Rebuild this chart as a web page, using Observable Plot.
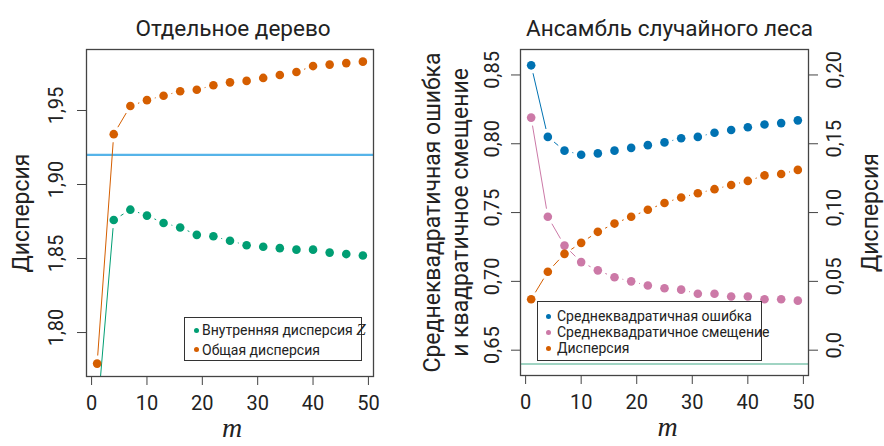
<!DOCTYPE html>
<html>
<head>
<meta charset="utf-8">
<script src="https://cdn.jsdelivr.net/npm/d3@7"></script>
<script src="https://cdn.jsdelivr.net/npm/@observablehq/plot@0.6"></script>
<style>
  html, body { margin: 0; padding: 0; background: #fff; }
  #wrap { position: relative; width: 884px; height: 446px; overflow: hidden; font-family: Roboto, "Liberation Sans", sans-serif; color: #222; }
  #p1 { position: absolute; left: 0; top: 0; }
  #p2 { position: absolute; left: 410px; top: 0; }
  .legend { position: absolute; background: #fff; border: 1px solid #333; box-sizing: border-box; }
  .row { position: absolute; left: 0; white-space: nowrap; font-size: 14px; line-height: 16px; color: #222; }
  .dot { position: absolute; width: 5px; height: 5px; border-radius: 50%; }
  .z { font-family: "Liberation Serif", serif; font-style: italic; font-size: 17px; }
</style>
</head>
<body>
<div id="wrap">
  <div id="p1"></div>
  <div id="p2"></div>
  <div class="legend" id="leg1" style="left:184px; top:317px; width:178px; height:44px;"></div>
  <div class="legend" id="leg2" style="left:537px; top:301px; width:225px; height:60px;"></div>
</div>
<script>
// ---- data ----
const m = [1, 4, 7, 10, 13, 16, 19, 22, 25, 28, 31, 34, 37, 40, 43, 46, 49];

// Left panel: single tree
const treeWithinZ = [1.743, 1.876, 1.883, 1.879, 1.874, 1.871, 1.866, 1.865, 1.862, 1.859, 1.858, 1.857, 1.856, 1.856, 1.854, 1.853, 1.852];
const treeTotal   = [1.779, 1.934, 1.953, 1.957, 1.960, 1.963, 1.964, 1.967, 1.969, 1.970, 1.972, 1.974, 1.976, 1.980, 1.981, 1.982, 1.983];
const treeRef = 1.920;

// Right panel: random forest ensemble
const rfMSE  = [0.857, 0.805, 0.795, 0.792, 0.793, 0.795, 0.797, 0.799, 0.801, 0.804, 0.805, 0.808, 0.810, 0.812, 0.814, 0.815, 0.817];
const rfBias = [0.819, 0.747, 0.726, 0.714, 0.708, 0.703, 0.700, 0.697, 0.695, 0.694, 0.691, 0.691, 0.689, 0.689, 0.687, 0.687, 0.686];
const rfVar  = [0.037, 0.057, 0.070, 0.078, 0.086, 0.092, 0.097, 0.102, 0.107, 0.111, 0.114, 0.117, 0.120, 0.123, 0.127, 0.128, 0.131];
const rfRef = 0.640;
const varOffset = 0.65; // right axis 0.0 aligns with left axis 0.65

// ticks and labels
const xTicks = [0, 10, 20, 30, 40, 50];
const treeYTicks = [1.80, 1.85, 1.90, 1.95];
const treeYLabels = ["1,80", "1,85", "1,90", "1,95"];
const rfYTicks = [0.65, 0.70, 0.75, 0.80, 0.85];
const rfYLabels = ["0,65", "0,70", "0,75", "0,80", "0,85"];
const rfVarTicks = [0.0, 0.05, 0.10, 0.15, 0.20];
const rfVarLabels = ["0,0", "0,05", "0,10", "0,15", "0,20"];

// text
const titles = ["Отдельное дерево", "Ансамбль случайного леса"];
const treeYTitle = "Дисперсия";
const rfYTitle = ["Среднеквадратичная ошибка", "и квадратичное смещение"];
const rfY2Title = "Дисперсия";
const xTitle = "m";
const legend1 = [["Внутренняя дисперсия ", "#009E73", true], ["Общая дисперсия", "#D55E00", false]];
const legend2 = [["Среднеквадратичная ошибка", "#0072B2"], ["Среднеквадратичное смещение", "#CC79A7"], ["Дисперсия", "#D55E00"]];

const C = { green: "#009E73", orange: "#D55E00", sky: "#56B4E9", blue: "#0072B2", pink: "#CC79A7", teal: "#43a987" };

// ---- helpers ----
const pts = (ys, off = 0) => m.map((x, i) => ({x, y: ys[i] + off}));
const segs = (ys, off = 0) => m.slice(1).map((x, i) => ({x1: m[i], y1: ys[i] + off, x2: x, y2: ys[i + 1] + off}));
const FONT = "Roboto, 'Liberation Sans', sans-serif";
const vtext = {rotate: -90, textAnchor: "middle", lineAnchor: "middle", fill: "#222"};

function series(ys, color, off = 0) {
  return [
    Plot.arrow(segs(ys, off), {x1: "x1", y1: "y1", x2: "x2", y2: "y2", stroke: color, strokeWidth: 1, headLength: 0, inset: 8.5, clip: true}),
    Plot.dot(pts(ys, off), {x: "x", y: "y", r: 4.3, fill: color, stroke: "none", clip: true})
  ];
}

function commonX(extra) {
  return [
    Plot.axisX({ticks: xTicks, tickSize: 9, tickPadding: 10, fontSize: 20, stroke: "#444", fill: "#222", label: null}),
    Plot.text([xTitle], {frameAnchor: "bottom", dy: 60, dx: extra, fontSize: 28, fontStyle: "italic", fontFamily: "'Liberation Serif', serif", fill: "#222"})
  ];
}

// ---- left panel ----
const p1 = Plot.plot({
  width: 410, height: 446,
  marginLeft: 86, marginRight: 37, marginTop: 49, marginBottom: 70,
  style: {fontFamily: FONT, fontSize: "20px", color: "#222", background: "white"},
  x: {domain: [-0.92, 50.92]},
  y: {domain: [1.7703, 1.9912]},
  marks: [
    Plot.ruleY([treeRef], {stroke: C.sky, strokeWidth: 2.2}),
    ...series(treeWithinZ, C.green),
    ...series(treeTotal, C.orange),
    Plot.frame({stroke: "#444", strokeWidth: 1.3}),
    Plot.axisY({ticks: treeYTicks, tickSize: 9, tickFormat: () => "", stroke: "#444", label: null}),
    Plot.text(treeYTicks, {y: d => d, text: (d, i) => treeYLabels[i], frameAnchor: "left", dx: -29.5, dy: -5, fontSize: 20, ...vtext}),
    Plot.text([treeYTitle], {frameAnchor: "left", dx: -65, fontSize: 23, ...vtext}),
    Plot.text([titles[0]], {frameAnchor: "top", dy: -29, dx: 3, fontSize: 22.5, fill: "#222"}),
    ...commonX(2)
  ]
});
document.getElementById("p1").appendChild(p1);

// ---- right panel ----
const p2 = Plot.plot({
  width: 474, height: 446,
  marginLeft: 110, marginRight: 76, marginTop: 49, marginBottom: 71,
  style: {fontFamily: FONT, fontSize: "20px", color: "#222", background: "white"},
  x: {domain: [-0.92, 50.92]},
  y: {domain: [0.6316, 0.8685]},
  marks: [
    Plot.ruleY([rfRef], {stroke: C.teal, strokeWidth: 1.1}),
    ...series(rfMSE, C.blue),
    ...series(rfBias, C.pink),
    ...series(rfVar, C.orange, varOffset),
    Plot.frame({stroke: "#444", strokeWidth: 1.3}),
    Plot.axisY({ticks: rfYTicks, tickSize: 9, tickFormat: () => "", stroke: "#444", label: null}),
    Plot.axisY({anchor: "right", ticks: rfVarTicks.map(v => v + varOffset), tickSize: 9, tickFormat: () => "", stroke: "#444", label: null}),
    Plot.text(rfYTicks, {y: d => d, text: (d, i) => rfYLabels[i], frameAnchor: "left", dx: -28.3, dy: -5, fontSize: 20, ...vtext}),
    Plot.text(rfVarTicks, {y: d => d + varOffset, text: (d, i) => rfVarLabels[i], frameAnchor: "right", dx: 26, dy: -5, fontSize: 20, ...vtext}),
    Plot.text([rfYTitle[0]], {frameAnchor: "left", dx: -88, fontSize: 23, ...vtext}),
    Plot.text([rfYTitle[1]], {frameAnchor: "left", dx: -60, fontSize: 23, ...vtext}),
    Plot.text([rfY2Title], {frameAnchor: "right", dx: 62, fontSize: 23, ...vtext}),
    Plot.text([titles[1]], {frameAnchor: "top", dy: -29, dx: 5, fontSize: 22.5, fill: "#222"}),
    ...commonX(3)
  ]
});
document.getElementById("p2").appendChild(p2);

// ---- legends ----
function buildLegend(id, items, opts) {
  const el = document.getElementById(id);
  items.forEach((it, i) => {
    const cy = opts.firstRow + i * opts.step;
    const dot = document.createElement("div");
    dot.className = "dot";
    dot.style.background = it[1];
    dot.style.left = (opts.dotX - 2.5) + "px";
    dot.style.top = (cy - 2.5) + "px";
    el.appendChild(dot);
    const row = document.createElement("div");
    row.className = "row";
    row.style.left = opts.textX + "px";
    row.style.top = (cy - 8) + "px";
    row.textContent = it[0];
    if (it[2]) {
      const z = document.createElement("span");
      z.className = "z";
      z.textContent = "Z";
      row.appendChild(z);
    }
    el.appendChild(row);
  });
}
buildLegend("leg1", legend1, {firstRow: 12, step: 19.5, dotX: 11, textX: 17});
buildLegend("leg2", legend2, {firstRow: 14, step: 16, dotX: 10.5, textX: 19});
</script>
</body>
</html>
